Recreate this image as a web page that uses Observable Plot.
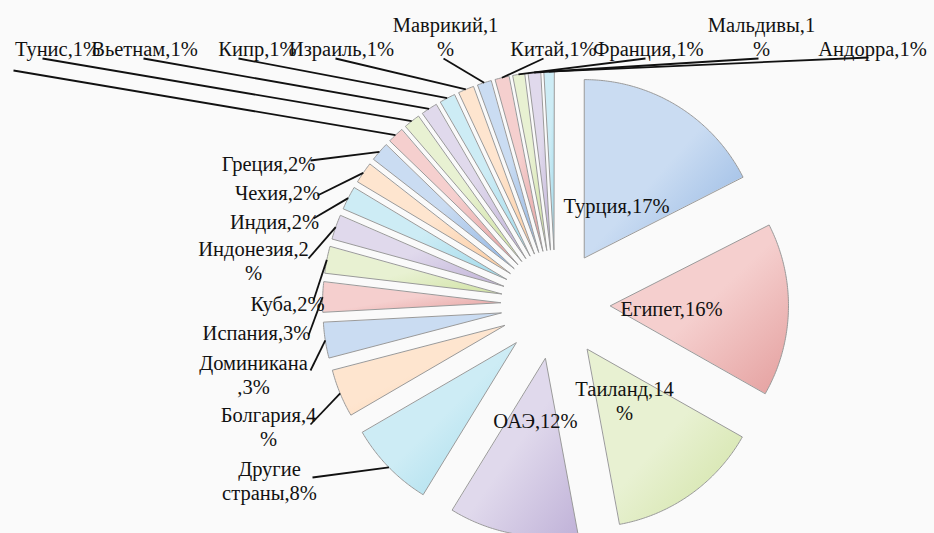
<!DOCTYPE html>
<html><head><meta charset="utf-8">
<script src="https://cdn.jsdelivr.net/npm/d3@7"></script>
<script src="https://cdn.jsdelivr.net/npm/@observablehq/plot@0.6"></script>
<style>html,body{margin:0;padding:0;background:#fafafa;overflow:hidden}
#chart svg text{font-family:"Liberation Serif","DejaVu Serif",serif !important;}</style>
</head><body><div id="chart"></div>
<script>
// ---- data ----
const countries = ["Турция","Египет","Таиланд","ОАЭ","Другие страны","Болгария","Доминикана","Испания","Куба","Индонезия","Индия","Чехия","Греция","","Тунис","Вьетнам","Кипр","Израиль","Маврикий","Китай","Франция","Мальдивы","Андорра"];
const shares = [17.4,15.6,13.8,11.6,7.8,4.3,3.2,2.7,2.4,2.2,2.1,1.9,1.7,1.45,1.45,1.45,1.4,1.4,1.25,1.25,1.05,1.1,0.9];
const labelText = ["Турция,17%","Египет,16%","Таиланд,14\n%","ОАЭ,12%","Другие\nстраны,8%","Болгария,4\n%","Доминикана\n,3%","Испания,3%","Куба,2%","Индонезия,2\n%","Индия,2%","Чехия,2%","Греция,2%","","Тунис,1%","Вьетнам,1%","Кипр,1%","Израиль,1%","Маврикий,1\n%","Китай,1%","Франция,1%","Мальдивы,1\n%","Андорра,1%"];

// ---- style / layout ----
const palette = [["#cadcf2","#8fb3e1"],["#f5cfce","#e49f9e"],["#e8f1d2","#d0e2a2"],["#e0d9ec","#c0b2d8"],["#cdecf5","#9fd9ea"],["#fee5cf","#fbcba0"]];
const CX = 555, CY = 304, R = 178, EXPLODE = 55;
const labelPos = [[616,205],[671,308],[624,400],[535,420],[269,480],[268,426],[253,374],[256,332],[287,303],[253,260],[274,221],[277,192],[268,163],null,[57,48],[144,48],[257,48],[341,48],[445,36],[553,48],[648,48],[761,36],[872,48]];
const leaderFrom = [null,null,null,null,[312,477],[310,424],[310,370],[308,335],[313,300],[308,258],[313,218],[317,195],[310,160],[13,70],[42,58],[143,58],[238,58],[335,58],[443,58],[543,58],[645,58],[758,58],[868,57]];

const arcs = d3.pie().sort(null).value(d => d)(shares);
const polys = [];
const leaders = [];
const labels = [];
arcs.forEach((a, i) => {
  const mid = (a.startAngle + a.endAngle) / 2;
  const ax = CX + EXPLODE * Math.sin(mid), ay = CY - EXPLODE * Math.cos(mid);
  const fill = `url(#g${i % 6})`;
  polys.push({i, px: ax, py: ay, fill});
  const n = Math.max(4, Math.ceil((a.endAngle - a.startAngle) / 0.01));
  for (let k = 0; k <= n; k++) {
    const t = a.startAngle + (a.endAngle - a.startAngle) * k / n;
    polys.push({i, px: ax + R * Math.sin(t), py: ay - R * Math.cos(t), fill});
  }
  if (leaderFrom[i]) leaders.push({x1: leaderFrom[i][0], y1: leaderFrom[i][1], x2: ax + R * Math.sin(mid), y2: ay - R * Math.cos(mid)});
  if (labelPos[i] && labelText[i]) labels.push({x: labelPos[i][0], y: labelPos[i][1], text: labelText[i]});
});

const gradients = () => {
  const ns = "http://www.w3.org/2000/svg";
  const defs = document.createElementNS(ns, "defs");
  palette.forEach(([c0, c1], k) => {
    const g = document.createElementNS(ns, "linearGradient");
    g.setAttribute("id", "g" + k);
    g.setAttribute("x1", "0"); g.setAttribute("y1", "0"); g.setAttribute("x2", "1"); g.setAttribute("y2", "1");
    [[0, c0], [0.5, c0], [1, c1]].forEach(([o, c]) => {
      const s = document.createElementNS(ns, "stop");
      s.setAttribute("offset", o); s.setAttribute("stop-color", c);
      g.appendChild(s);
    });
    defs.appendChild(g);
  });
  return defs;
};

const chart = Plot.plot({
  width: 934, height: 533, margin: 0,
  style: {background: "#fafafa", overflow: "hidden", fontFamily: "Liberation Serif"},
  x: {domain: [0, 934], range: [0, 934], axis: null},
  y: {domain: [0, 533], range: [0, 533], axis: null},
  color: {type: "identity"},
  marks: [
    gradients,
    Plot.line(polys, {x: "px", y: "py", z: "i", fill: "fill", stroke: "#9a9a9a", strokeWidth: 1, curve: "linear-closed"}),
    Plot.text(labels, {x: "x", y: "y", text: "text", fontFamily: "Liberation Serif", fontSize: 20.5, lineHeight: 1.15, fill: "#111", lineAnchor: "middle"}),
    Plot.link(leaders, {x1: "x1", y1: "y1", x2: "x2", y2: "y2", stroke: "#111", strokeWidth: 1.8})
  ]
});
document.getElementById("chart").appendChild(chart);
</script>
</body></html>
